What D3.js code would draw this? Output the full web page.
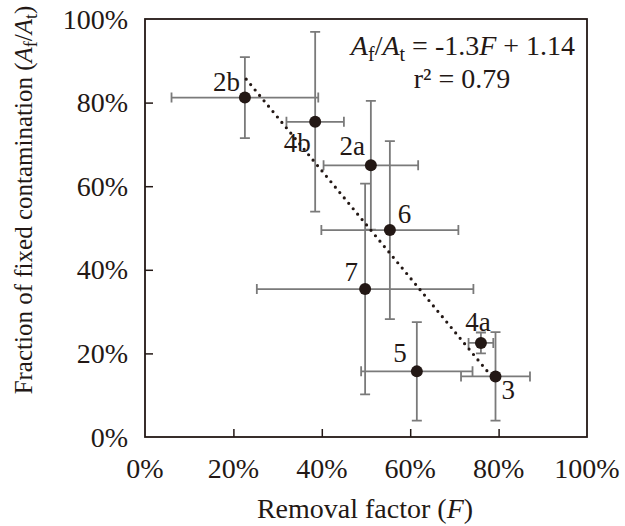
<!doctype html>
<meta charset="utf-8" />
<style>
    body {
        margin: 0;
        background: white;
    }
</style>
<svg></svg>

<script src="https://cdn.jsdelivr.net/npm/d3@7/dist/d3.min.js"></script>
<script>
    // data
    var labels = ['2b', '4b', '2a', '6', '7', '5', '4a', '3']
    var removal = [0.226, 0.385, 0.511, 0.554, 0.498, 0.615, 0.760, 0.793]
    var removalErr = [0.166, 0.065, 0.107, 0.155, 0.245, 0.126, 0.028, 0.078]
    var fixedFrac = [0.812, 0.754, 0.650, 0.495, 0.354, 0.157, 0.225, 0.145]
    var fixedErr = [0.097, 0.215, 0.154, 0.213, 0.252, 0.118, 0.025, 0.106]
    var ticks = [0, 0.2, 0.4, 0.6, 0.8, 1.0]
    var slope = -1.3, intercept = 1.14, r2 = 0.79
    var fitF = [0.229, 0.781]
    var fitA = [0.856, 0.149]

    var W = 625, H = 526
    var serif = '"Liberation Serif", "Times New Roman", Times, "DejaVu Serif", serif'
    var ink = '#231815'
    var svg = d3.select('svg')
        .attr('width', W)
        .attr('height', H)
        .attr('font-family', serif)
        .attr('fill', ink)

    var x = d3.scaleLinear().domain([0, 1]).range([145, 587])
    var y = d3.scaleLinear().domain([0, 1]).range([437, 19])
    var fmt = d3.format('.0%')

    // ticks point inward
    var xAxis = svg.append('g')
        .attr('transform', 'translate(0,' + y(0) + ')')
        .call(d3.axisTop(x).tickValues(ticks.slice(1, -1)).tickSize(8).tickFormat(''))
    xAxis.select('.domain').remove()
    xAxis.selectAll('line').attr('stroke', ink).attr('stroke-width', 1.5)

    var yAxis = svg.append('g')
        .attr('transform', 'translate(' + x(0) + ',0)')
        .call(d3.axisRight(y).tickValues(ticks.slice(1, -1)).tickSize(8).tickFormat(''))
    yAxis.select('.domain').remove()
    yAxis.selectAll('line').attr('stroke', ink).attr('stroke-width', 1.5)

    // tick labels
    svg.selectAll('.xlab').data(ticks).join('text')
        .attr('font-family', serif)
        .attr('x', d => x(d))
        .attr('y', 478)
        .attr('text-anchor', 'middle')
        .attr('font-size', 28)
        .text(fmt)

    svg.selectAll('.ylab').data(ticks).join('text')
        .attr('font-family', serif)
        .attr('x', 128)
        .attr('y', d => y(d))
        .attr('dy', '0.34em')
        .attr('text-anchor', 'end')
        .attr('font-size', 28)
        .text(fmt)

    // frame
    svg.append('rect')
        .attr('x', x(0))
        .attr('y', y(1))
        .attr('width', x(1) - x(0))
        .attr('height', y(0) - y(1))
        .style('fill', 'none')
        .style('stroke', ink)
        .style('stroke-width', 1.8)

    var pts = labels.map((l, i) => ({
        label: l, f: removal[i], fe: removalErr[i], a: fixedFrac[i], ae: fixedErr[i]
    }))

    // error bars
    var cap = 5
    var eb = svg.append('g')
        .style('stroke', '#7a7a7a')
        .style('stroke-width', 1.8)
        .style('fill', 'none')
    pts.forEach(function (p) {
        var cx = x(p.f), cy = y(p.a)
        var x1 = x(p.f - p.fe), x2 = x(p.f + p.fe)
        var y1 = y(p.a + p.ae), y2 = y(p.a - p.ae)
        var path = d3.path()
        path.moveTo(x1, cy); path.lineTo(x2, cy)
        path.moveTo(x1, cy - cap); path.lineTo(x1, cy + cap)
        path.moveTo(x2, cy - cap); path.lineTo(x2, cy + cap)
        path.moveTo(cx, y1); path.lineTo(cx, y2)
        path.moveTo(cx - cap, y1); path.lineTo(cx + cap, y1)
        path.moveTo(cx - cap, y2); path.lineTo(cx + cap, y2)
        eb.append('path').attr('d', path.toString())
    })

    // fitted line (dotted)
    svg.append('line')
        .attr('x1', x(fitF[0]))
        .attr('y1', y(fitA[0]))
        .attr('x2', x(fitF[1]))
        .attr('y2', y(fitA[1]))
        .style('stroke', ink)
        .style('stroke-width', 3.2)
        .style('stroke-linecap', 'round')
        .style('stroke-dasharray', '0 7')

    // points
    svg.selectAll('.pt').data(pts).join('circle')
        .attr('cx', d => x(d.f))
        .attr('cy', d => y(d.a))
        .attr('r', 6)
        .style('fill', ink)

    // point labels
    var off = {
        '2b': [-5, -7, 'end'], '4b': [-18, 30, 'middle'], '2a': [-6, -10, 'end'],
        '6': [8, -7, 'start'], '7': [-7, -8, 'end'], '5': [-10, -9, 'end'],
        '4a': [-3, -12, 'middle'], '3': [6, 23, 'start']
    }
    svg.selectAll('.plab').data(pts).join('text')
        .attr('font-family', serif)
        .attr('x', d => x(d.f) + off[d.label][0])
        .attr('y', d => y(d.a) + off[d.label][1])
        .attr('text-anchor', d => off[d.label][2])
        .attr('font-size', 27)
        .text(d => d.label)

    // equation
    var eq = svg.append('text')
        .attr('font-family', serif)
        .attr('x', 463)
        .attr('y', 55)
        .attr('text-anchor', 'middle')
        .attr('font-size', 28)
    eq.append('tspan').attr('font-style', 'italic').text('A')
    eq.append('tspan').attr('dy', 6).attr('font-size', 20).text('f')
    eq.append('tspan').attr('dy', -6).text('/')
    eq.append('tspan').attr('font-style', 'italic').text('A')
    eq.append('tspan').attr('dy', 6).attr('font-size', 20).text('t')
    eq.append('tspan').attr('dy', -6).text(' = ' + slope + '')
    eq.append('tspan').attr('font-style', 'italic').text('F')
    eq.append('tspan').text(' + ' + intercept)

    svg.append('text')
        .attr('font-family', serif)
        .attr('x', 462)
        .attr('y', 88)
        .attr('text-anchor', 'middle')
        .attr('font-size', 28)
        .text('r\u00b2 = ' + r2)

    // axis titles
    var xt = svg.append('text')
        .attr('font-family', serif)
        .attr('x', 365)
        .attr('y', 518)
        .attr('text-anchor', 'middle')
        .attr('font-size', 28)
    xt.append('tspan').text('Removal factor (')
    xt.append('tspan').attr('font-style', 'italic').text('F')
    xt.append('tspan').text(')')

    var yt = svg.append('text')
        .attr('font-family', serif)
        .attr('transform', 'translate(32,200) rotate(-90)')
        .attr('text-anchor', 'middle')
        .attr('font-size', 25)
    yt.append('tspan').text('Fraction of fixed contamination (')
    yt.append('tspan').attr('font-style', 'italic').text('A')
    yt.append('tspan').attr('dy', 5).attr('font-size', 18).text('f')
    yt.append('tspan').attr('dy', -5).text('/')
    yt.append('tspan').attr('font-style', 'italic').text('A')
    yt.append('tspan').attr('dy', 5).attr('font-size', 18).text('t')
    yt.append('tspan').attr('dy', -5).text(')')
</script>
